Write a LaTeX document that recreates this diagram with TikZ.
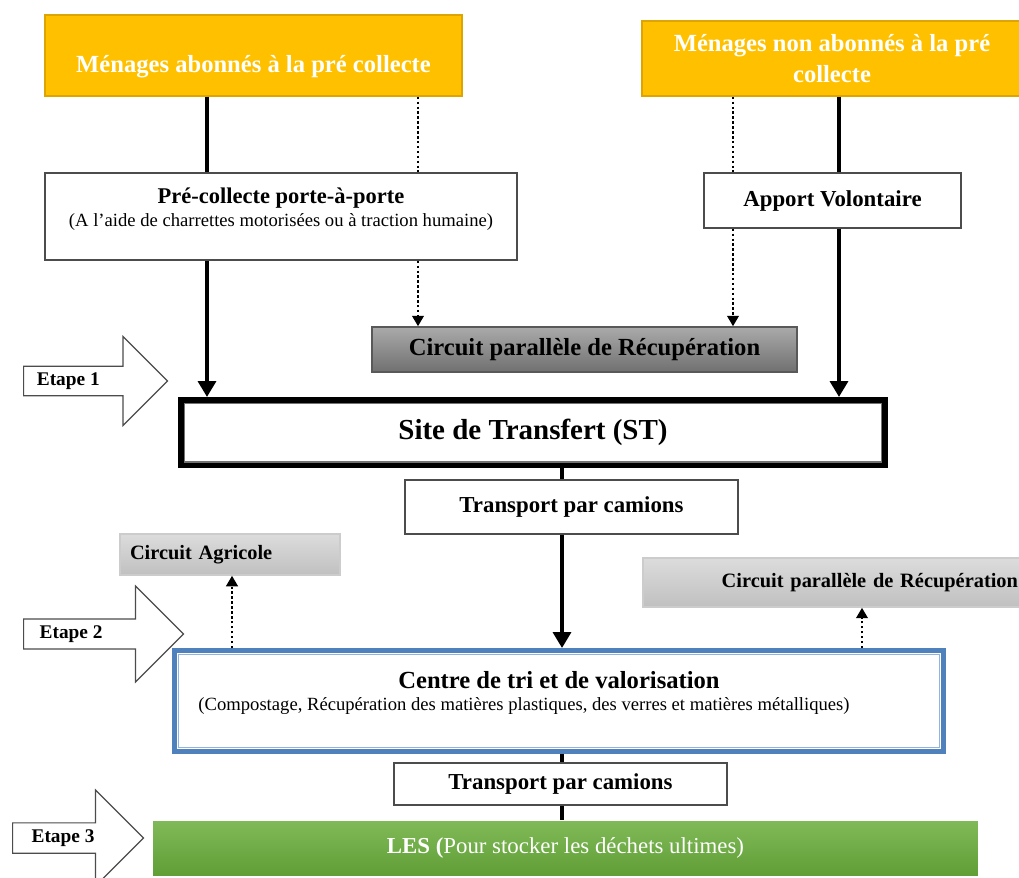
\documentclass[tikz,border=0pt]{standalone}
\usepackage{fontspec}
\setmainfont{Liberation Serif}
\usetikzlibrary{arrows.meta,positioning,shapes.arrows}
\definecolor{menagegold}{RGB}{255,192,0}
\definecolor{menageedge}{RGB}{222,165,0}
\definecolor{triblue}{RGB}{79,129,189}
\definecolor{triinner}{RGB}{149,179,215}
\definecolor{lestop}{RGB}{128,186,88}
\definecolor{lesbottom}{RGB}{96,158,54}
\definecolor{darktop}{RGB}{170,170,170}
\definecolor{darkbottom}{RGB}{112,112,112}
\definecolor{lighttop}{RGB}{220,220,220}
\definecolor{lightbottom}{RGB}{192,192,192}

\begin{document}
\begin{tikzpicture}[
  x=0.02cm, y=-0.02cm,
  font=\fontsize{11}{13}\selectfont,
  box/.style={draw=black!70, line width=0.8pt, fill=white, align=center, inner sep=2pt},
  title/.style={font=\fontsize{13}{15}\selectfont\bfseries},
  menage/.style={box, draw=menageedge, fill=menagegold, text=white, font=\fontsize{14}{18}\selectfont\bfseries},
  darkcirc/.style={box, draw=black!65, top color=darktop, bottom color=darkbottom, font=\fontsize{14}{16}\selectfont\bfseries},
  lightcirc/.style={box, draw=black!20, top color=lighttop, bottom color=lightbottom, font=\fontsize{11.6}{14}\selectfont\bfseries},
  site/.style={box, draw=black, line width=3.4pt, font=\fontsize{16.5}{19}\selectfont\bfseries},
  tri/.style={box, draw=triblue, line width=2.8pt},
  les/.style={box, draw=none, top color=lestop, bottom color=lesbottom, text=white, font=\fontsize{13}{16}\selectfont},
  etape/.style={single arrow, draw=black!70, line width=0.7pt, fill=white, single arrow head indent=0pt, inner sep=1pt, font=\fontsize{11}{13}\selectfont\bfseries},
  flow/.style={line width=2.8pt},
  flowarrow/.style={flow, -{Triangle[length=9pt,width=10pt]}},
  side/.style={dash pattern=on 1.4pt off 1.4pt, line width=1.5pt},
  sidearrow/.style={side, -{Triangle[length=6pt,width=6.5pt]}}
]
\useasboundingbox (0,0) rectangle (1019,877);

\node[menage, minimum width=83.4mm, minimum height=16.2mm,
  label={[name=men1txt, yshift=-2.3mm, text=white, font=\fontsize{14}{18}\selectfont\bfseries]center:Ménages abonnés à la pré collecte}] (men1) at (253.5,55.5) {};
\node[menage, minimum width=76mm, minimum height=15mm] (men2) at (832,58.5) {Ménages non abonnés à la pré\\collecte};
\node[box, minimum width=94.4mm, minimum height=17.4mm,
  label={[name=precolltxt, yshift=1.4mm, align=center]center:{\fontsize{12.8}{16}\selectfont\bfseries Pré-collecte porte-à-porte}\\{\fontsize{10.6}{13}\selectfont(A l’aide de charrettes motorisées ou à traction humaine)}}] (precoll) at (281,216.5) {};
\node[box, title, minimum width=51.4mm, minimum height=11mm] (apport) at (832.5,200.5) {Apport Volontaire};
\node[darkcirc, minimum width=85mm, minimum height=9mm] (circ1) at (584.5,349.5) {Circuit parallèle de Récupération};
\node[site, minimum width=140.8mm, minimum height=13mm] (st) at (533,432.5) {Site de Transfert (ST)};
\node[box, title, minimum width=66.6mm, minimum height=10.8mm] (trans1) at (571.5,507) {Transport par camions};
\node[lightcirc, minimum width=44mm, minimum height=8.2mm, text width=40mm, align=left] (agri) at (230,554.5) {Circuit Agricole};
\node[lightcirc, minimum width=76mm, minimum height=9.8mm, text width=74mm, align=right] (circ2) at (833,582.5) {Circuit parallèle de Récupération};
\node[tri, minimum width=153.8mm, minimum height=20.2mm,
  label={[name=centretxt, yshift=1.6mm, align=center]center:{\fontsize{14}{17}\selectfont\bfseries Centre de tri et de valorisation}\\{\fontsize{10.6}{13}\selectfont(Compostage, Récupération des matières plastiques, des verres et matières métalliques)\hspace*{14mm}}}] (centre) at (559,701) {};
\node[box, title, minimum width=66.6mm, minimum height=8.4mm] (trans2) at (560.5,784) {Transport par camions};
\node[les, minimum width=165mm, minimum height=10.8mm] (les) at (565.5,848) {\textbf{LES (}Pour stocker les déchets ultimes)};

\node[etape, minimum height=28.8mm, minimum width=17.8mm, single arrow head extend=4.4mm, anchor=tail] (etape1) at (23,381) {Etape 1\hspace*{8mm}};
\node[etape, minimum height=32mm, minimum width=19.2mm, single arrow head extend=4.8mm, anchor=tail] (etape2) at (23,634) {Etape 2\hspace*{10mm}};
\node[etape, minimum height=26.2mm, minimum width=19.2mm, single arrow head extend=4.7mm, anchor=tail] (etape3) at (12,838) {Etape 3\hspace*{3mm}};

\draw[black!55, line width=0.6pt] ([shift={(6,-6)}]st.south west) rectangle ([shift={(-6,6)}]st.north east);
\draw[triinner, line width=0.6pt] ([shift={(6,-6)}]centre.south west) rectangle ([shift={(-6,6)}]centre.north east);

\coordinate (leftflow) at (207,0);
\coordinate (leftside) at (418,0);
\coordinate (rightside) at (733,0);
\coordinate (rightflow) at (839,0);
\coordinate (mainflow) at (562,0);
\coordinate (agriflow) at (232,0);
\coordinate (recupflow) at (862,0);

\draw[flow] (men1.south -| leftflow) -- (precoll.north -| leftflow);
\draw[flowarrow] (precoll.south -| leftflow) -- (st.north -| leftflow);
\draw[side] (men1.south -| leftside) -- (precoll.north -| leftside);
\draw[sidearrow] (precoll.south -| leftside) -- (circ1.north -| leftside);
\draw[side] (men2.south -| rightside) -- (apport.north -| rightside);
\draw[sidearrow] (apport.south -| rightside) -- (circ1.north -| rightside);
\draw[flow] (men2.south -| rightflow) -- (apport.north -| rightflow);
\draw[flowarrow] (apport.south -| rightflow) -- (st.north -| rightflow);
\draw[flow] (st.south -| mainflow) -- (trans1.north -| mainflow);
\draw[flowarrow] (trans1.south -| mainflow) -- (centre.north -| mainflow);
\draw[sidearrow] (centre.north -| agriflow) -- (agri.south -| agriflow);
\draw[sidearrow] (centre.north -| recupflow) -- (circ2.south -| recupflow);
\draw[flow] (centre.south -| mainflow) -- (trans2.north -| mainflow);
\draw[flow] (trans2.south -| mainflow) -- (les.north -| mainflow);
\end{tikzpicture}
\end{document}
